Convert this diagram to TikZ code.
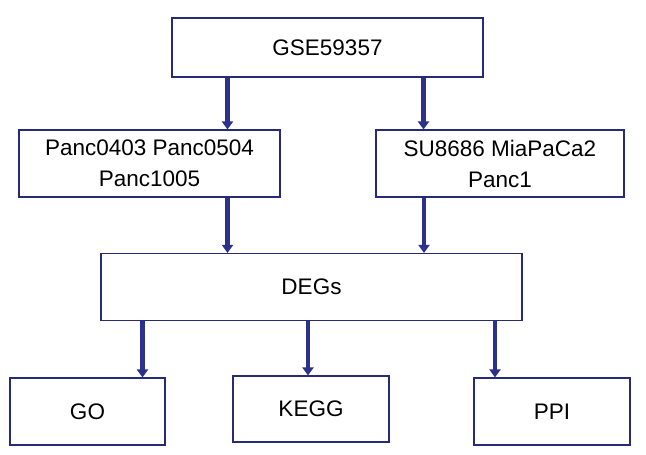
\documentclass[tikz,border=0pt]{standalone}
\usepackage{fontspec}
\setmainfont{Liberation Sans}
\usetikzlibrary{arrows.meta}

\definecolor{navy}{RGB}{38,42,120}
\definecolor{arrowblue}{RGB}{44,50,140}

\tikzset{
  box/.style={draw=navy, line width=1.1pt, fill=white, align=center,
    font=\fontsize{22.5}{31}\selectfont, inner sep=0pt},
  flow/.style={draw=arrowblue, line width=4.5pt,
    -{Triangle[length=8pt,width=11pt]}}
}

\begin{document}
\begin{tikzpicture}[x=1pt,y=-1pt]

    \useasboundingbox (0,0) rectangle (646,455);

    \node[box, minimum width=311pt, minimum height=59pt] (gse) at (327.5,47.5) {GSE59357};

    \node[box, minimum width=261pt, minimum height=67pt] (panc) at (149.5,163.5) {Panc0403 Panc0504\\Panc1005};
    \node[box, minimum width=248pt, minimum height=67pt] (su) at (500,163.5) {SU8686 MiaPaCa2\\Panc1};

    \node[box, minimum width=421pt, minimum height=67pt] (degs) at (311.5,287) {DEGs};

    \node[box, minimum width=155pt, minimum height=67pt] (go) at (87.5,411.5) {GO};
    \node[box, minimum width=156pt, minimum height=66pt] (kegg) at (311,409) {KEGG};
    \node[box, minimum width=156pt, minimum height=67pt] (ppi) at (552,411.5) {PPI};

    \draw[flow] ([xshift=-100pt]gse.south) -- ([xshift=-100pt]gse.south |- panc.north);
    \draw[flow] ([xshift=96pt]gse.south) -- ([xshift=96pt]gse.south |- su.north);

    \draw[flow] ([xshift=78pt]panc.south) -- ([xshift=78pt]panc.south |- degs.north);
    \draw[flow] ([xshift=-76pt]su.south) -- ([xshift=-76pt]su.south |- degs.north);

    \draw[flow] (degs.south -| go.north) ++(55pt,0) -- ([xshift=55pt]go.north);
    \draw[flow] (degs.south -| kegg.north) ++(-3pt,0) -- ([xshift=-3pt]kegg.north);
    \draw[flow] (degs.south -| ppi.north) ++(-57pt,0) -- ([xshift=-57pt]ppi.north);

\end{tikzpicture}
\end{document}
